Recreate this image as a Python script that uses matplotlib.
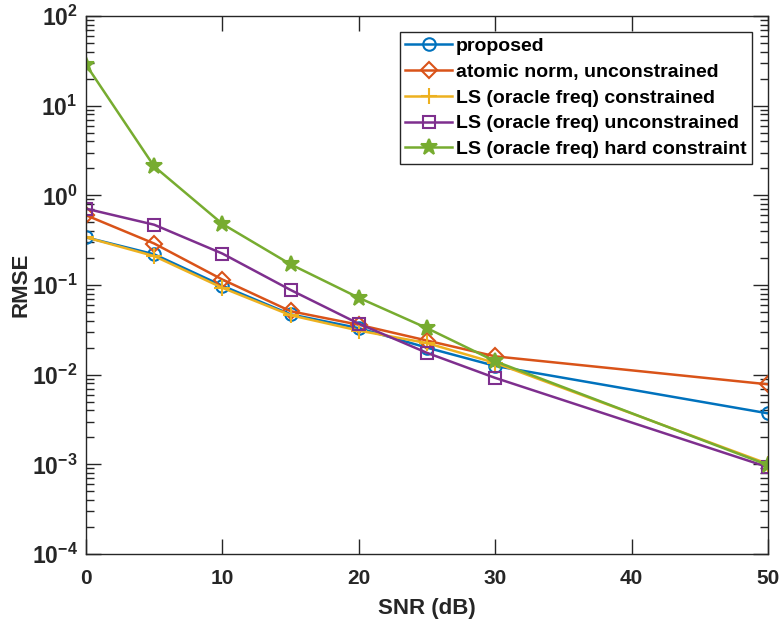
import matplotlib
matplotlib.use("Agg")
import matplotlib.pyplot as plt
from matplotlib.ticker import LogLocator, FixedLocator

plt.rcParams['font.family'] = ['Liberation Sans', 'DejaVu Sans']
plt.rcParams['font.weight'] = 'bold'
plt.rcParams['mathtext.fontset'] = 'custom'
plt.rcParams['mathtext.rm'] = 'Liberation Sans:bold'
plt.rcParams['mathtext.bf'] = 'Liberation Sans:bold'
plt.rcParams['mathtext.default'] = 'bf'
plt.rcParams['axes.unicode_minus'] = False

snr = [0, 5, 10, 15, 20, 25, 30, 50]

proposed = [0.34, 0.22, 0.098, 0.047, 0.033, 0.020, 0.0125, 0.0037]
atomic = [0.60, 0.29, 0.115, 0.051, 0.036, 0.024, 0.016, 0.0078]
ls_con = [0.34, 0.21, 0.093, 0.046, 0.031, 0.0225, 0.0135, 0.00101]
ls_uncon = [0.71, 0.47, 0.224, 0.088, 0.037, 0.0175, 0.0092, 0.00093]
ls_hard = [28.7, 2.1, 0.48, 0.17, 0.072, 0.033, 0.0141, 0.00098]

labels = ["proposed", "atomic norm, unconstrained", "LS (oracle freq) constrained",
          "LS (oracle freq) unconstrained", "LS (oracle freq) hard constraint"]
colors = ["#0072BD", "#D95319", "#EDB120", "#7E2F8E", "#77AC30"]
markers = ["o", "D", "+", "s", "*"]
msizes = [9, 8, 11, 8, 12]
fills = ["none", "none", "none", "none", "#77AC30"]

fig = plt.figure(figsize=(7.81, 6.23), dpi=100)
ax = fig.add_axes([0.1101, 0.1108, 0.8733, 0.8635])

series = [proposed, atomic, ls_con, ls_uncon, ls_hard]
for y, lab, c, m, ms, fc in zip(series, labels, colors, markers, msizes, fills):
    ax.plot(snr, y, color=c, marker=m, markersize=ms, markerfacecolor=fc,
            markeredgecolor=c, markeredgewidth=1.5, linewidth=1.8, label=lab)

ax.set_yscale('log')
ax.set_xlim(0, 50)
ax.set_ylim(1e-4, 1e2)
ax.xaxis.set_major_locator(FixedLocator([0, 10, 20, 30, 40, 50]))
ax.yaxis.set_major_locator(LogLocator(base=10, numticks=10))
ax.yaxis.set_minor_locator(LogLocator(base=10, subs=range(2, 10), numticks=100))

ax.tick_params(which='both', direction='in', top=True, right=True,
               width=1, colors='#262626')
ax.tick_params(which='major', length=10.5)
ax.tick_params(which='minor', length=5.5)
ax.tick_params(axis='x', which='major', pad=11, labelsize=15)
ax.tick_params(axis='y', which='major', pad=6, labelsize=16.5)
ax.tick_params(axis='x', which='minor', bottom=False, top=False)
ax.xaxis.get_offset_text().set_visible(False)
ax.yaxis.get_offset_text().set_visible(False)
for s in ax.spines.values():
    s.set_color('#262626')
    s.set_linewidth(1)

ax.set_xlabel('SNR (dB)', fontsize=16, fontweight='bold', color='#262626', labelpad=7)
ax.set_ylabel('RMSE', fontsize=16, fontweight='bold', color='#262626', labelpad=0)

leg = ax.legend(loc='upper right', fontsize=14, frameon=True, fancybox=False,
                edgecolor='#262626', borderpad=0.3, handlelength=2.4,
                labelspacing=0.42, handletextpad=0.2, borderaxespad=0.8)
leg.get_frame().set_linewidth(1)
leg.get_frame().set_alpha(1)

fig.savefig('out.png', dpi=100)
